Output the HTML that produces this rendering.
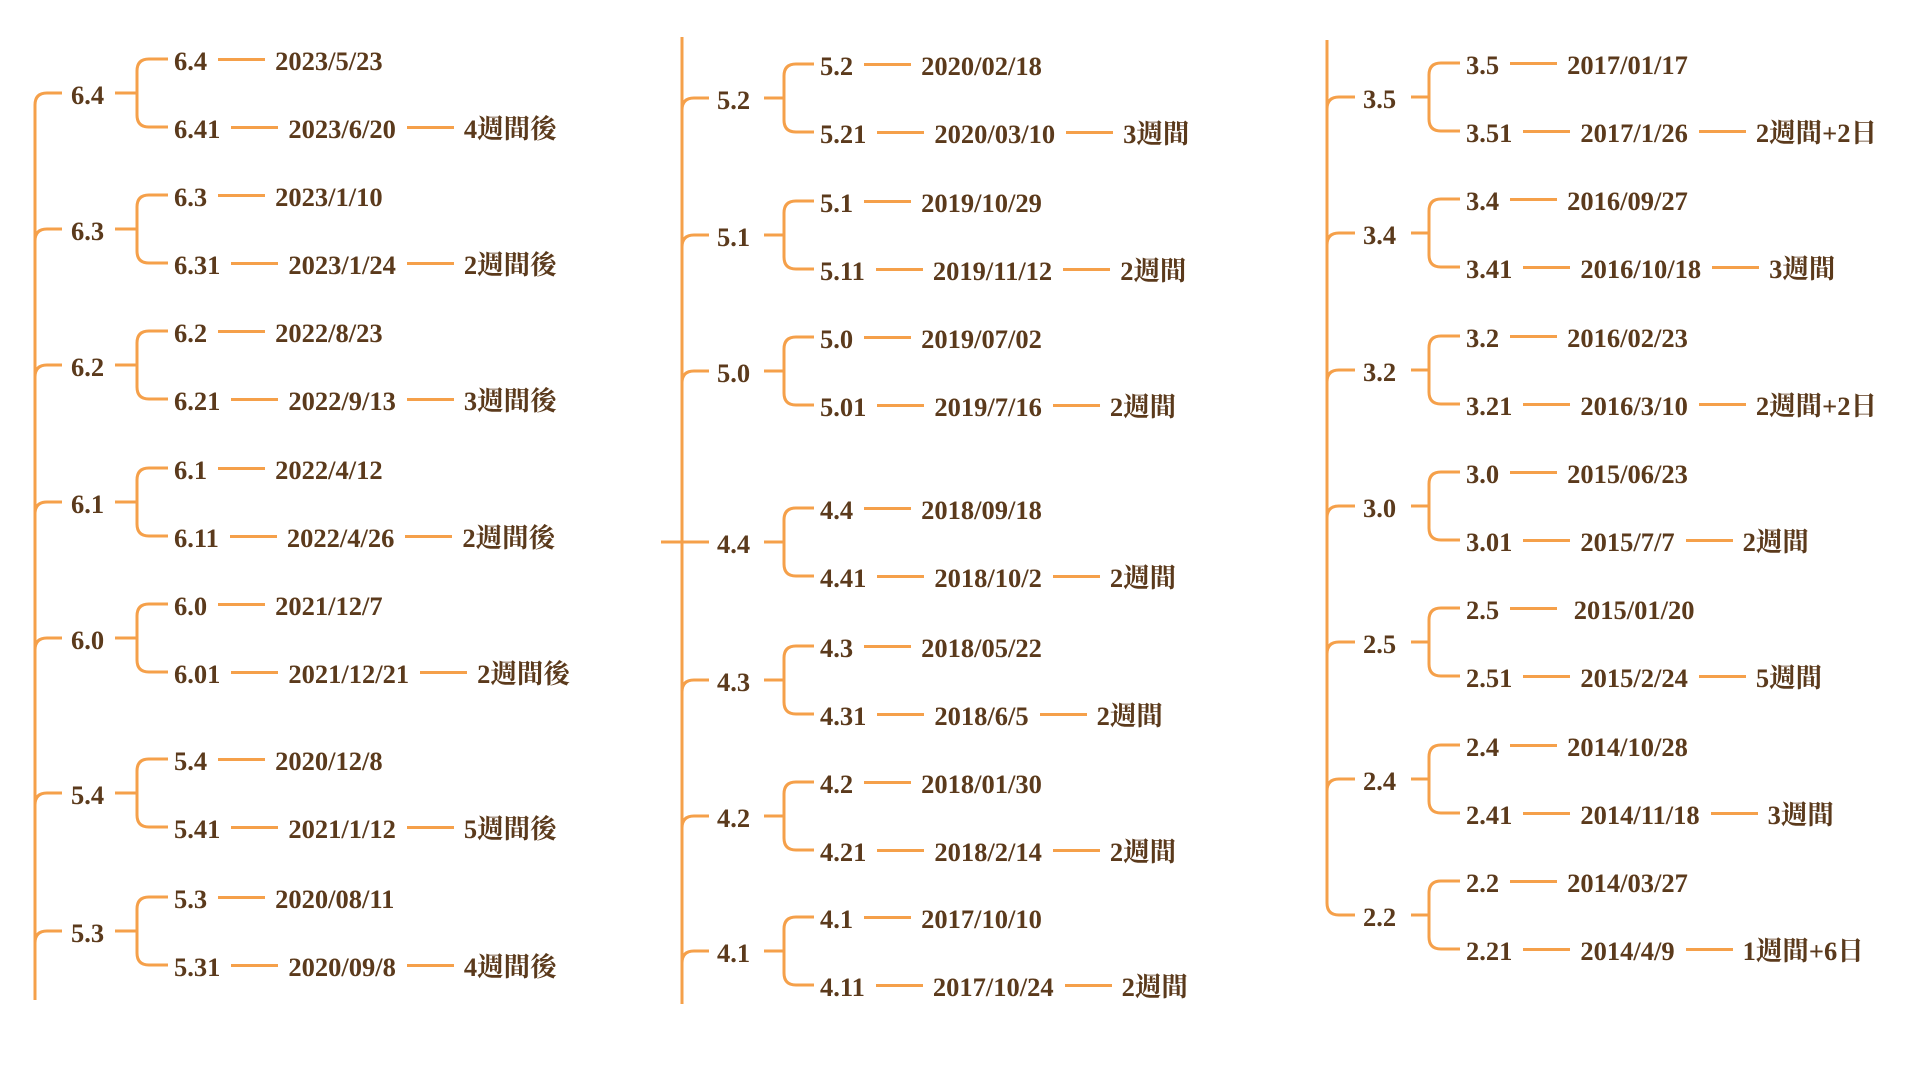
<!DOCTYPE html>
<html><head><meta charset="utf-8"><style>
body{margin:0;width:1920px;height:1080px;background:#fff;position:relative;overflow:hidden;font-family:"Liberation Serif","Noto Serif CJK SC",serif;font-weight:bold;color:#5b3a1c;font-size:26.5px}
.r{position:absolute;height:32px;line-height:32px;display:flex;align-items:center;white-space:nowrap;margin-top:2px}
.l{display:inline-block;width:47px;height:3px;background:#f5a04a;margin:0 10px 0 11px;position:relative;top:-2px}
.p{position:absolute;height:32px;line-height:32px;margin-top:2px}
svg{position:absolute;left:0;top:0}
</style></head><body>
<svg width="1920" height="1080" fill="none" stroke="#f5a04a" stroke-width="3">
<path d="M35,1000 L35,105 Q35,93 47,93 L62,93"/>
<path d="M35,241 Q35,229 47,229 L62,229 M35,377 Q35,365 47,365 L62,365 M35,514 Q35,502 47,502 L62,502 M35,650 Q35,638 47,638 L62,638 M35,805 Q35,793 47,793 L62,793 M35,943 Q35,931 47,931 L62,931"/>
<path d="M682,37 L682,1004"/>
<path d="M682,110 Q682,98 694,98 L709,98 M682,247 Q682,235 694,235 L709,235 M682,383 Q682,371 694,371 L709,371 M661,542 L709,542 M682,692 Q682,680 694,680 L709,680 M682,828 Q682,816 694,816 L709,816 M682,963 Q682,951 694,951 L709,951"/>
<path d="M1327,40 L1327,903 Q1327,915 1339,915 L1355,915"/>
<path d="M1327,109 Q1327,97 1339,97 L1355,97 M1327,245 Q1327,233 1339,233 L1355,233 M1327,382 Q1327,370 1339,370 L1355,370 M1327,518 Q1327,506 1339,506 L1355,506 M1327,654 Q1327,642 1339,642 L1355,642 M1327,791 Q1327,779 1339,779 L1355,779"/>
<g>
<path d="M115,93 L137,93 M168,59 L149,59 Q137,59 137,71 L137,115 Q137,127 149,127 L168,127"/>
<path d="M115,229 L137,229 M168,195 L149,195 Q137,195 137,207 L137,251 Q137,263 149,263 L168,263"/>
<path d="M115,365 L137,365 M168,331 L149,331 Q137,331 137,343 L137,387 Q137,399 149,399 L168,399"/>
<path d="M115,502 L137,502 M168,468 L149,468 Q137,468 137,480 L137,524 Q137,536 149,536 L168,536"/>
<path d="M115,638 L137,638 M168,604 L149,604 Q137,604 137,616 L137,660 Q137,672 149,672 L168,672"/>
<path d="M115,793 L137,793 M168,759 L149,759 Q137,759 137,771 L137,815 Q137,827 149,827 L168,827"/>
<path d="M115,931 L137,931 M168,897 L149,897 Q137,897 137,909 L137,953 Q137,965 149,965 L168,965"/>
</g>
<g>
<path d="M764,98 L784,98 M814,64 L796,64 Q784,64 784,76 L784,120 Q784,132 796,132 L814,132"/>
<path d="M764,235 L784,235 M814,201 L796,201 Q784,201 784,213 L784,257 Q784,269 796,269 L814,269"/>
<path d="M764,371 L784,371 M814,337 L796,337 Q784,337 784,349 L784,393 Q784,405 796,405 L814,405"/>
<path d="M764,542 L784,542 M814,508 L796,508 Q784,508 784,520 L784,564 Q784,576 796,576 L814,576"/>
<path d="M764,680 L784,680 M814,646 L796,646 Q784,646 784,658 L784,702 Q784,714 796,714 L814,714"/>
<path d="M764,816 L784,816 M814,782 L796,782 Q784,782 784,794 L784,838 Q784,850 796,850 L814,850"/>
<path d="M764,951 L784,951 M814,917 L796,917 Q784,917 784,929 L784,973 Q784,985 796,985 L814,985"/>
</g>
<g>
<path d="M1411,97 L1429,97 M1460,63 L1441,63 Q1429,63 1429,75 L1429,119 Q1429,131 1441,131 L1460,131"/>
<path d="M1411,233 L1429,233 M1460,199 L1441,199 Q1429,199 1429,211 L1429,255 Q1429,267 1441,267 L1460,267"/>
<path d="M1411,370 L1429,370 M1460,336 L1441,336 Q1429,336 1429,348 L1429,392 Q1429,404 1441,404 L1460,404"/>
<path d="M1411,506 L1429,506 M1460,472 L1441,472 Q1429,472 1429,484 L1429,528 Q1429,540 1441,540 L1460,540"/>
<path d="M1411,642 L1429,642 M1460,608 L1441,608 Q1429,608 1429,620 L1429,664 Q1429,676 1441,676 L1460,676"/>
<path d="M1411,779 L1429,779 M1460,745 L1441,745 Q1429,745 1429,757 L1429,801 Q1429,813 1441,813 L1460,813"/>
<path d="M1411,915 L1429,915 M1460,881 L1441,881 Q1429,881 1429,893 L1429,937 Q1429,949 1441,949 L1460,949"/>
</g>
</svg>

<div class="p" style="left:71px;top:77px">6.4</div>
<div class="r" style="left:174px;top:43px">6.4<span class="l"></span>2023/5/23</div>
<div class="r" style="left:174px;top:111px">6.41<span class="l"></span>2023/6/20<span class="l"></span>4週間後</div>
<div class="p" style="left:71px;top:213px">6.3</div>
<div class="r" style="left:174px;top:179px">6.3<span class="l"></span>2023/1/10</div>
<div class="r" style="left:174px;top:247px">6.31<span class="l"></span>2023/1/24<span class="l"></span>2週間後</div>
<div class="p" style="left:71px;top:349px">6.2</div>
<div class="r" style="left:174px;top:315px">6.2<span class="l"></span>2022/8/23</div>
<div class="r" style="left:174px;top:383px">6.21<span class="l"></span>2022/9/13<span class="l"></span>3週間後</div>
<div class="p" style="left:71px;top:486px">6.1</div>
<div class="r" style="left:174px;top:452px">6.1<span class="l"></span>2022/4/12</div>
<div class="r" style="left:174px;top:520px">6.11<span class="l"></span>2022/4/26<span class="l"></span>2週間後</div>
<div class="p" style="left:71px;top:622px">6.0</div>
<div class="r" style="left:174px;top:588px">6.0<span class="l"></span>2021/12/7</div>
<div class="r" style="left:174px;top:656px">6.01<span class="l"></span>2021/12/21<span class="l"></span>2週間後</div>
<div class="p" style="left:71px;top:777px">5.4</div>
<div class="r" style="left:174px;top:743px">5.4<span class="l"></span>2020/12/8</div>
<div class="r" style="left:174px;top:811px">5.41<span class="l"></span>2021/1/12<span class="l"></span>5週間後</div>
<div class="p" style="left:71px;top:915px">5.3</div>
<div class="r" style="left:174px;top:881px">5.3<span class="l"></span>2020/08/11</div>
<div class="r" style="left:174px;top:949px">5.31<span class="l"></span>2020/09/8<span class="l"></span>4週間後</div>

<div class="p" style="left:717px;top:82px">5.2</div>
<div class="r" style="left:820px;top:48px">5.2<span class="l"></span>2020/02/18</div>
<div class="r" style="left:820px;top:116px">5.21<span class="l"></span>2020/03/10<span class="l"></span>3週間</div>
<div class="p" style="left:717px;top:219px">5.1</div>
<div class="r" style="left:820px;top:185px">5.1<span class="l"></span>2019/10/29</div>
<div class="r" style="left:820px;top:253px">5.11<span class="l"></span>2019/11/12<span class="l"></span>2週間</div>
<div class="p" style="left:717px;top:355px">5.0</div>
<div class="r" style="left:820px;top:321px">5.0<span class="l"></span>2019/07/02</div>
<div class="r" style="left:820px;top:389px">5.01<span class="l"></span>2019/7/16<span class="l"></span>2週間</div>
<div class="p" style="left:717px;top:526px">4.4</div>
<div class="r" style="left:820px;top:492px">4.4<span class="l"></span>2018/09/18</div>
<div class="r" style="left:820px;top:560px">4.41<span class="l"></span>2018/10/2<span class="l"></span>2週間</div>
<div class="p" style="left:717px;top:664px">4.3</div>
<div class="r" style="left:820px;top:630px">4.3<span class="l"></span>2018/05/22</div>
<div class="r" style="left:820px;top:698px">4.31<span class="l"></span>2018/6/5<span class="l"></span>2週間</div>
<div class="p" style="left:717px;top:800px">4.2</div>
<div class="r" style="left:820px;top:766px">4.2<span class="l"></span>2018/01/30</div>
<div class="r" style="left:820px;top:834px">4.21<span class="l"></span>2018/2/14<span class="l"></span>2週間</div>
<div class="p" style="left:717px;top:935px">4.1</div>
<div class="r" style="left:820px;top:901px">4.1<span class="l"></span>2017/10/10</div>
<div class="r" style="left:820px;top:969px">4.11<span class="l"></span>2017/10/24<span class="l"></span>2週間</div>

<div class="p" style="left:1363px;top:81px">3.5</div>
<div class="r" style="left:1466px;top:47px">3.5<span class="l"></span>2017/01/17</div>
<div class="r" style="left:1466px;top:115px">3.51<span class="l"></span>2017/1/26<span class="l"></span>2週間+2日</div>
<div class="p" style="left:1363px;top:217px">3.4</div>
<div class="r" style="left:1466px;top:183px">3.4<span class="l"></span>2016/09/27</div>
<div class="r" style="left:1466px;top:251px">3.41<span class="l"></span>2016/10/18<span class="l"></span>3週間</div>
<div class="p" style="left:1363px;top:354px">3.2</div>
<div class="r" style="left:1466px;top:320px">3.2<span class="l"></span>2016/02/23</div>
<div class="r" style="left:1466px;top:388px">3.21<span class="l"></span>2016/3/10<span class="l"></span>2週間+2日</div>
<div class="p" style="left:1363px;top:490px">3.0</div>
<div class="r" style="left:1466px;top:456px">3.0<span class="l"></span>2015/06/23</div>
<div class="r" style="left:1466px;top:524px">3.01<span class="l"></span>2015/7/7<span class="l"></span>2週間</div>
<div class="p" style="left:1363px;top:626px">2.5</div>
<div class="r" style="left:1466px;top:592px">2.5<span class="l"></span>&nbsp;2015/01/20</div>
<div class="r" style="left:1466px;top:660px">2.51<span class="l"></span>2015/2/24<span class="l"></span>5週間</div>
<div class="p" style="left:1363px;top:763px">2.4</div>
<div class="r" style="left:1466px;top:729px">2.4<span class="l"></span>2014/10/28</div>
<div class="r" style="left:1466px;top:797px">2.41<span class="l"></span>2014/11/18<span class="l"></span>3週間</div>
<div class="p" style="left:1363px;top:899px">2.2</div>
<div class="r" style="left:1466px;top:865px">2.2<span class="l"></span>2014/03/27</div>
<div class="r" style="left:1466px;top:933px">2.21<span class="l"></span>2014/4/9<span class="l"></span>1週間+6日</div>
</body></html>
